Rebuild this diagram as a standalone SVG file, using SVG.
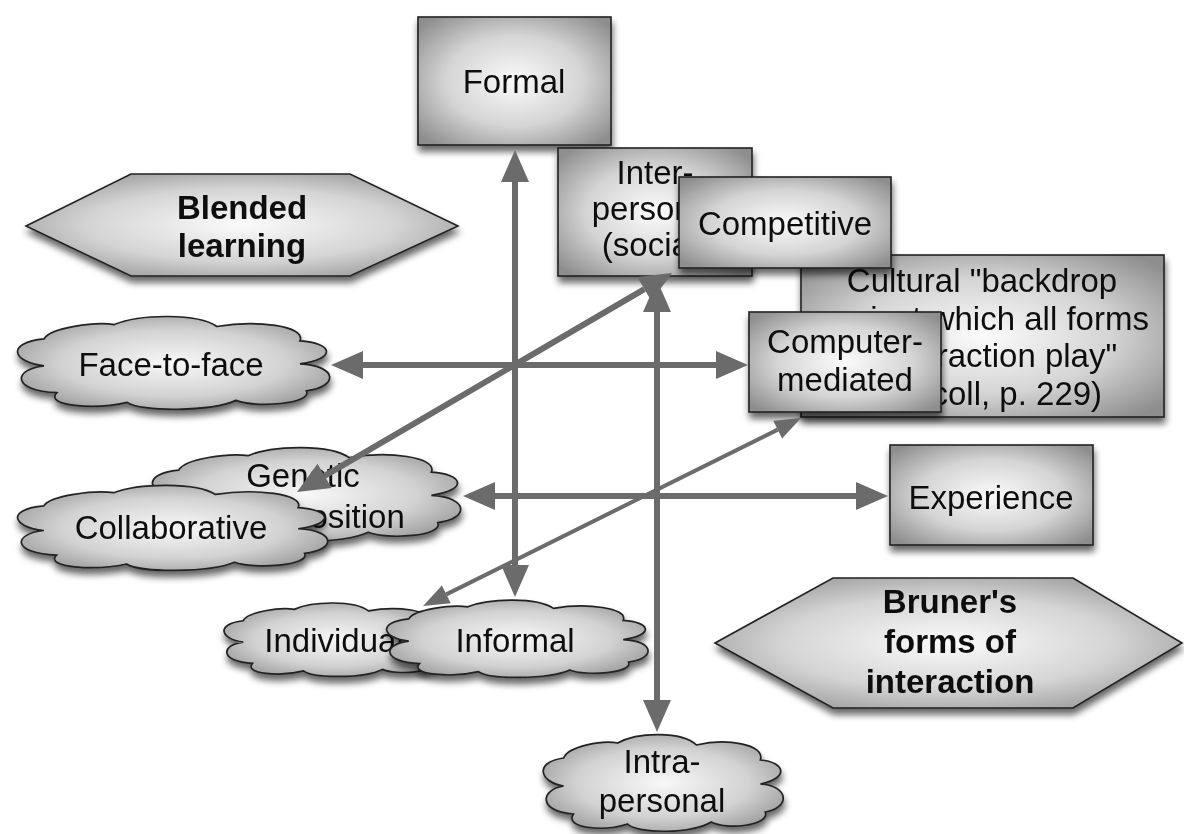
<svg xmlns="http://www.w3.org/2000/svg" width="1184" height="834" viewBox="0 0 1184 834">
<defs>
<radialGradient id="gBox" cx="0.5" cy="0.5" r="0.65">
<stop offset="0" stop-color="#fbfbfb"/>
<stop offset="0.55" stop-color="#d4d4d4"/>
<stop offset="1" stop-color="#8e8e8e"/>
</radialGradient>
<radialGradient id="gCloud" cx="0.5" cy="0.5" r="0.6">
<stop offset="0" stop-color="#f8f8f8"/>
<stop offset="0.6" stop-color="#d2d2d2"/>
<stop offset="1" stop-color="#989898"/>
</radialGradient>
<filter id="sh" x="-10%" y="-10%" width="125%" height="135%">
<feGaussianBlur in="SourceAlpha" stdDeviation="3.5"/>
<feOffset dx="1" dy="6" result="b"/>
<feComponentTransfer><feFuncA type="linear" slope="0.6"/></feComponentTransfer>
<feMerge><feMergeNode/><feMergeNode in="SourceGraphic"/></feMerge>
</filter>
<path id="cloud" vector-effect="non-scaling-stroke" d="M 10,54 C 0,50 -2,30 10,26 C 12,14 26,8 32,11 C 40,0 58,-1 64,13 C 76,6 92,12 90,28 C 100,30 102,46 90,52 C 102,54 102,76 92,80 C 94,94 76,98 70,90 C 62,102 40,102 36,92 C 26,100 10,96 14,82 C 0,80 0,58 10,54 Z"/>
<marker id="ah" markerUnits="userSpaceOnUse" markerWidth="40" markerHeight="40" refX="0" refY="14" orient="auto-start-reverse" overflow="visible">
<path d="M0,0 L32,14 L0,28 Z" fill="#6b6b6b"/>
</marker>
<marker id="ahs" markerUnits="userSpaceOnUse" markerWidth="34" markerHeight="34" refX="0" refY="10" orient="auto-start-reverse" overflow="visible">
<path d="M0,0 L26,10 L0,20 Z" fill="#6b6b6b"/>
</marker>
</defs>
<style>
.box{fill:url(#gBox);stroke:#222;stroke-width:1.6}
.cl{fill:url(#gCloud);stroke:#222;stroke-width:1.7}
.t{font-family:"Liberation Sans",Arial,sans-serif;font-size:33px;fill:#111;text-anchor:middle}
.b{font-weight:bold}
.con line{stroke:#6b6b6b;stroke-width:6;fill:none}
.con line.thin{stroke-width:4}
</style>
<rect width="1184" height="834" fill="#ffffff"/>

<g id="formal" filter="url(#sh)">
<rect class="box" x="418" y="17" width="193" height="128"/>
<text class="t" x="514" y="93">Formal</text>
</g>

<g id="interpersonal" filter="url(#sh)">
<rect class="box" x="558" y="148" width="194" height="128"/>
<text class="t" x="655" y="184">Inter-</text>
<text class="t" x="655" y="220">personal</text>
<text class="t" x="655" y="256">(social)</text>
</g>

<g id="cultural" filter="url(#sh)">
<rect class="box" x="801" y="255" width="363" height="162"/>
<text class="t" x="982" y="292">Cultural "backdrop</text>
<text class="t" x="982" y="330">against which all forms</text>
<text class="t" x="982" y="367">of interaction play"</text>
<text class="t" x="982" y="405">(Driscoll, p. 229)</text>
</g>

<g id="competitive" filter="url(#sh)">
<rect class="box" x="679" y="177" width="212" height="91"/>
<text class="t" x="785" y="235">Competitive</text>
</g>

<g id="computermediated" filter="url(#sh)">
<rect class="box" x="749" y="312" width="192" height="100"/>
<text class="t" x="845" y="353">Computer-</text>
<text class="t" x="845" y="391">mediated</text>
</g>

<g id="experience" filter="url(#sh)">
<rect class="box" x="890" y="445" width="203" height="100"/>
<text class="t" x="991" y="509">Experience</text>
</g>

<g id="blended" filter="url(#sh)">
<polygon class="box" points="26,226 131,174 350,174 458,226 350,276 131,276"/>
<text class="t b" x="242" y="219">Blended</text>
<text class="t b" x="242" y="257">learning</text>
</g>

<g id="bruner" filter="url(#sh)">
<polygon class="box" points="715,643 833,578 1073,578 1182,643 1073,708 833,708"/>
<text class="t b" x="950" y="613">Bruner's</text>
<text class="t b" x="950" y="653">forms of</text>
<text class="t b" x="950" y="693">interaction</text>
</g>

<g id="facetoface" filter="url(#sh)">
<use href="#cloud" class="cl" transform="translate(12,314) scale(3.2,0.96)"/>
<text class="t" x="171" y="376">Face-to-face</text>
</g>

<g id="genetic" filter="url(#sh)">
<use href="#cloud" class="cl" transform="translate(147,445) scale(3.16,0.97)"/>
<text class="t" x="303" y="487">Genetic</text>
<text class="t" x="303" y="528">predisposition</text>
</g>

<g id="collaborative" filter="url(#sh)">
<use href="#cloud" class="cl" transform="translate(12,483) scale(3.18,0.88)"/>
<text class="t" x="171" y="539">Collaborative</text>
</g>

<g id="individual" filter="url(#sh)">
<use href="#cloud" class="cl" transform="translate(220,601) scale(2.32,0.76)"/>
<text class="t" x="334" y="652">Individual</text>
</g>

<g id="informal" filter="url(#sh)">
<use href="#cloud" class="cl" transform="translate(382,598) scale(2.68,0.8)"/>
<text class="t" x="515" y="652">Informal</text>
</g>

<g id="intrapersonal" filter="url(#sh)">
<use href="#cloud" class="cl" transform="translate(539,732) scale(2.46,1.0)"/>
<text class="t" x="662" y="773">Intra-</text>
<text class="t" x="662" y="812">personal</text>
</g>

<g id="connectors" class="con">
<line x1="515" y1="182" x2="515" y2="565" marker-start="url(#ah)" marker-end="url(#ah)"/>
<line x1="657" y1="312" x2="657" y2="700" marker-start="url(#ah)" marker-end="url(#ah)"/>
<line x1="363" y1="365" x2="716" y2="365" marker-start="url(#ah)" marker-end="url(#ah)"/>
<line x1="495" y1="496" x2="856" y2="496" marker-start="url(#ah)" marker-end="url(#ah)"/>
<line x1="324.6" y1="475.9" x2="644.4" y2="289.1" marker-start="url(#ah)" marker-end="url(#ah)"/>
<line class="thin" x1="446.3" y1="594.4" x2="777.7" y2="429.6" marker-start="url(#ahs)" marker-end="url(#ahs)"/>
</g>
</svg>
